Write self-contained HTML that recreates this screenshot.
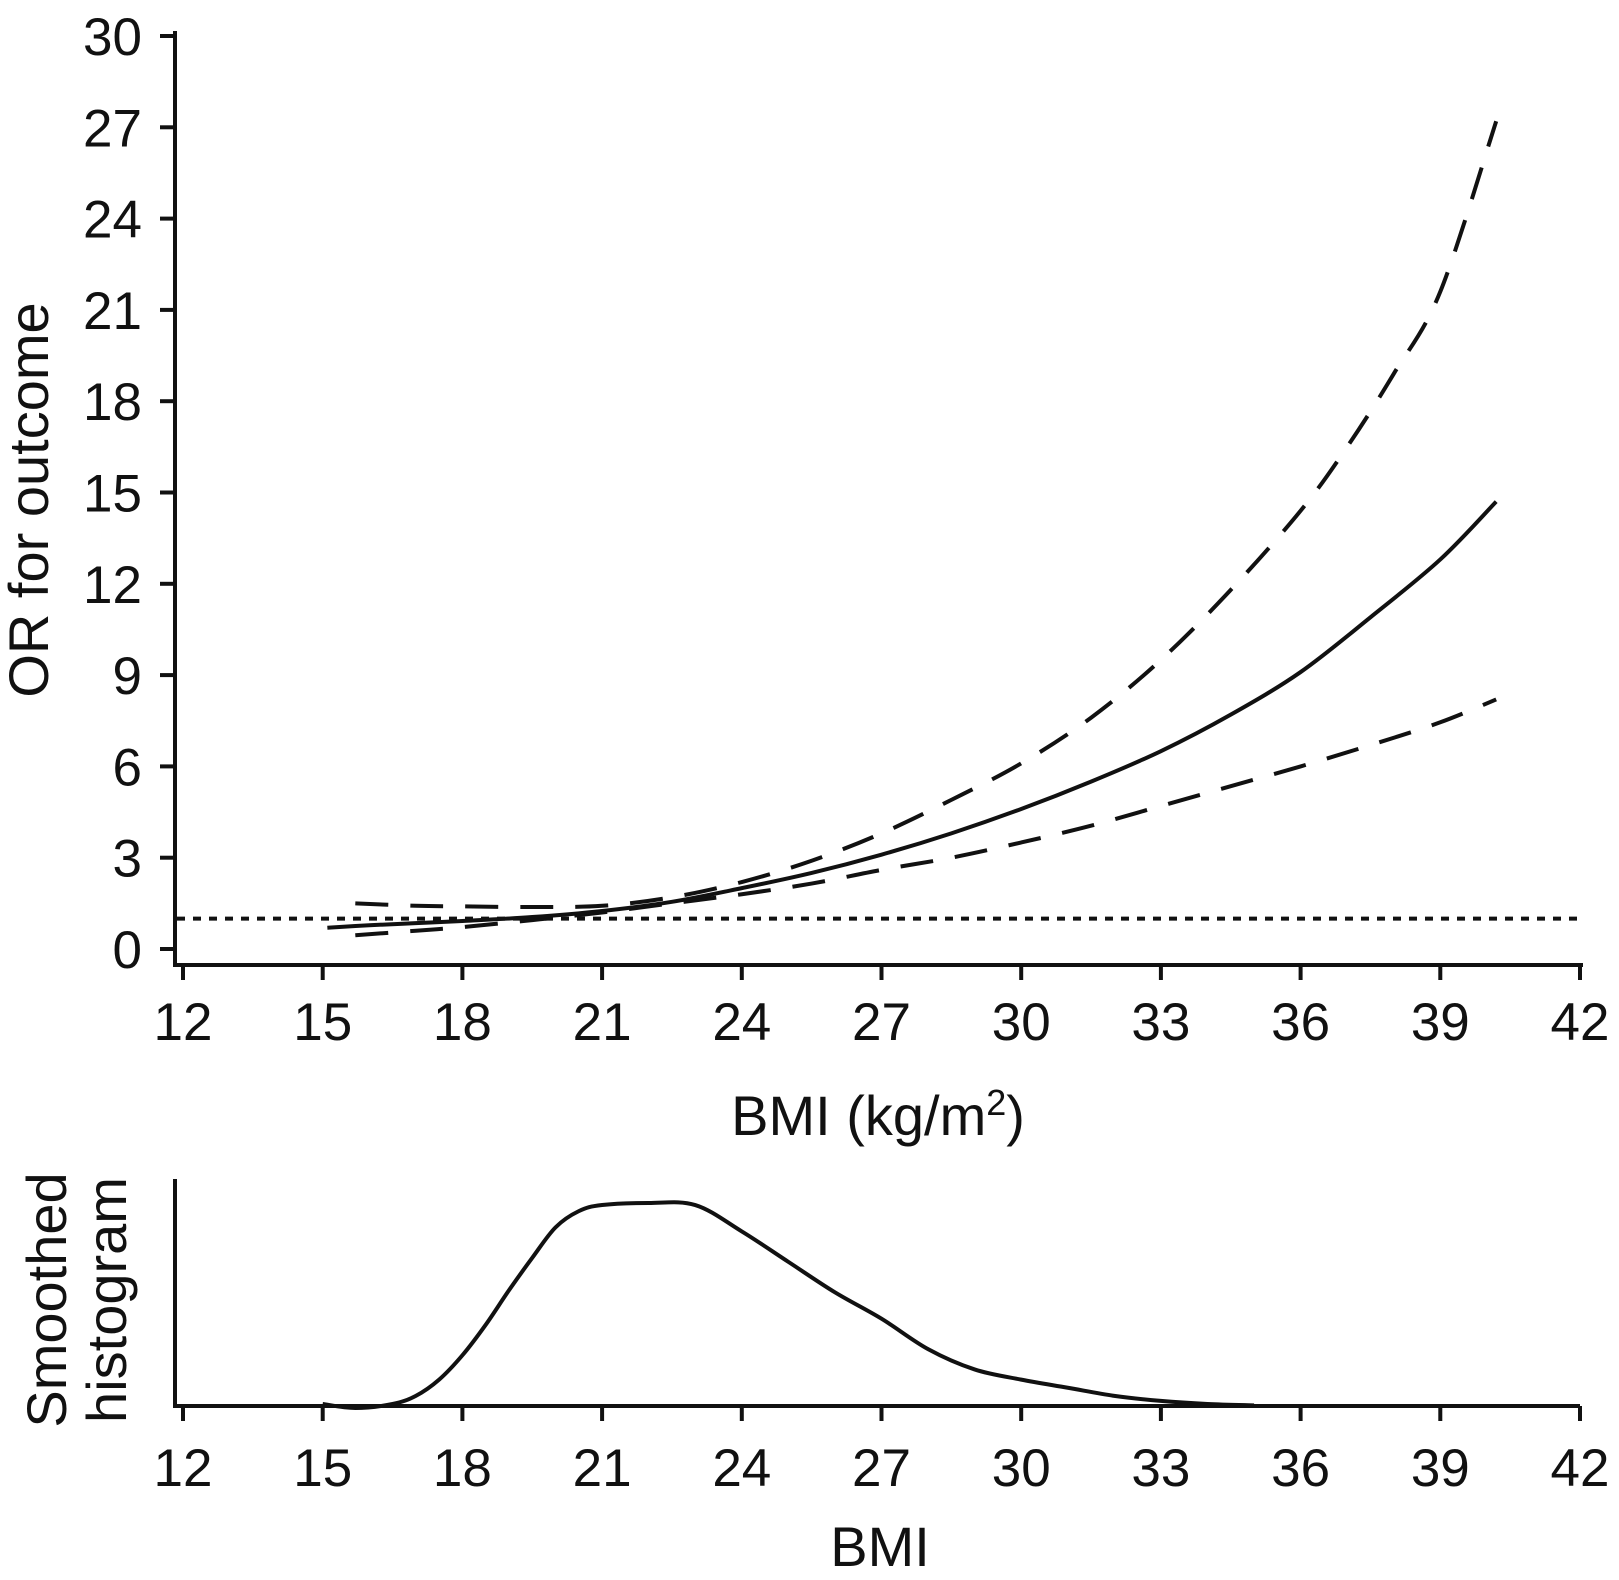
<!DOCTYPE html>
<html><head><meta charset="utf-8"><style>
html,body{margin:0;padding:0;background:#fff;}
svg{display:block;font-family:"Liberation Sans",Arial,sans-serif;}
</style></head><body>
<svg id="chart" width="1619" height="1580" viewBox="0 0 1619 1580"></svg>
<script>
const xTicks=[12,15,18,21,24,27,30,33,36,39,42];
const yTicks=[0,3,6,9,12,15,18,21,24,27,30];
const orX=[15.1,16,17,18,19.5,21,22.5,24,25.5,27,28.5,30,31.5,33,34.5,36,37.5,39,40.2];
const orY=[0.7,0.78,0.85,0.92,1.05,1.25,1.55,2.0,2.5,3.1,3.8,4.6,5.5,6.5,7.7,9.1,10.9,12.8,14.7];
const upX=[15.7,17,18,19.5,21,22.5,24,25.5,27,28.5,30,31.5,33,34.5,36,37,38,39,40.2];
const upY=[1.5,1.42,1.4,1.38,1.42,1.7,2.2,2.9,3.8,4.9,6.1,7.6,9.5,11.8,14.4,16.5,18.9,21.6,27.2];
const loX=[15.7,17,18,19.5,21,22.5,24,25.5,27,28.5,30,31.5,33,34.5,36,37.5,39,40.2];
const loY=[0.45,0.6,0.72,0.95,1.2,1.5,1.8,2.15,2.6,3.0,3.5,4.05,4.7,5.35,6.0,6.7,7.45,8.2];
const refY=1;
const hX=[15,15.7,16.5,17,17.5,18,18.5,19,19.5,20,20.5,21,22,23,24,25,26,27,28,29,30,31,32,33,34,35];
const hY=[1,-1,1,5,13,25,40,57,73,88,96,99,100,99,86,71,56,43,28,18,13,9,5,2.5,1,0.3];

const svg=document.getElementById('chart');
const NS='http://www.w3.org/2000/svg';
function mk(tag,attrs,parent){const e=document.createElementNS(NS,tag);for(const k in attrs)e.setAttribute(k,attrs[k]);(parent||svg).appendChild(e);return e;}
const sx=v=>183+(v-12)*(1397/30);
const sy=v=>949-v*(913/30);
const hy=v=>1406-v*2.03;
function smooth(xs,ys,fx,fy){
  const p=xs.map((x,i)=>[fx(x),fy(ys[i])]);
  let d='M'+p[0][0]+','+p[0][1];
  for(let i=0;i<p.length-1;i++){
    const p0=p[i-1]||p[i],p1=p[i],p2=p[i+1],p3=p[i+2]||p2;
    const c1=[p1[0]+(p2[0]-p0[0])/6,p1[1]+(p2[1]-p0[1])/6];
    const c2=[p2[0]-(p3[0]-p1[0])/6,p2[1]-(p3[1]-p1[1])/6];
    d+=`C${c1[0]},${c1[1]} ${c2[0]},${c2[1]} ${p2[0]},${p2[1]}`;
  }
  return d;
}
const FS=53;
let e;
e=mk('line',{x1:175,y1:31,x2:175,y2:967,stroke:'#111','stroke-width':4});

e=mk('line',{x1:173,y1:965,x2:1583,y2:965,stroke:'#111','stroke-width':4});

yTicks.forEach(t=>{
  e=mk('line',{x1:160,y1:sy(t),x2:175,y2:sy(t),stroke:'#111','stroke-width':4});
  
  e=mk('text',{x:142,y:sy(t)+19,'font-size':FS,'text-anchor':'end',fill:'#111'});e.textContent=t;
  
});
xTicks.forEach(t=>{
  e=mk('line',{x1:sx(t),y1:965,x2:sx(t),y2:980,stroke:'#111','stroke-width':4});
  
  e=mk('text',{x:sx(t),y:1040,'font-size':FS,'text-anchor':'middle',fill:'#111'});e.textContent=t;
  
});
e=mk('text',{x:0,y:0,'font-size':56,'text-anchor':'middle',fill:'#111',transform:'translate(48,500) rotate(-90)'});e.textContent='OR for outcome';

e=mk('text',{x:878,y:1135,'font-size':56,'text-anchor':'middle',fill:'#111'});
e.innerHTML='BMI (kg/m<tspan dy="-20" font-size="36">2</tspan><tspan dy="20">)</tspan>';

e=mk('line',{x1:177,y1:sy(refY),x2:1580,y2:sy(refY),stroke:'#111','stroke-width':4,'stroke-dasharray':'8 8'});

e=mk('path',{d:smooth(upX,upY,sx,sy),fill:'none',stroke:'#111','stroke-width':4,'stroke-dasharray':'33 22'});

e=mk('path',{d:smooth(loX,loY,sx,sy),fill:'none',stroke:'#111','stroke-width':4,'stroke-dasharray':'33 22'});

e=mk('path',{d:smooth(orX,orY,sx,sy),fill:'none',stroke:'#111','stroke-width':4});

e=mk('line',{x1:175,y1:1179,x2:175,y2:1408,stroke:'#111','stroke-width':4});

e=mk('line',{x1:173,y1:1406,x2:1580,y2:1406,stroke:'#111','stroke-width':4});

xTicks.forEach(t=>{
  e=mk('line',{x1:sx(t),y1:1406,x2:sx(t),y2:1421,stroke:'#111','stroke-width':4});
  
  e=mk('text',{x:sx(t),y:1486,'font-size':FS,'text-anchor':'middle',fill:'#111'});e.textContent=t;
  
});
e=mk('path',{d:smooth(hX,hY,sx,hy),fill:'none',stroke:'#111','stroke-width':4});

e=mk('text',{x:0,y:0,'font-size':56,'text-anchor':'middle',fill:'#111',transform:'translate(66,1300) rotate(-90)'});e.textContent='Smoothed';

e=mk('text',{x:0,y:0,'font-size':56,'text-anchor':'middle',fill:'#111',transform:'translate(126,1300) rotate(-90)'});e.textContent='histogram';

e=mk('text',{x:880,y:1566,'font-size':56,'text-anchor':'middle',fill:'#111'});e.textContent='BMI';

</script>
</body></html>
